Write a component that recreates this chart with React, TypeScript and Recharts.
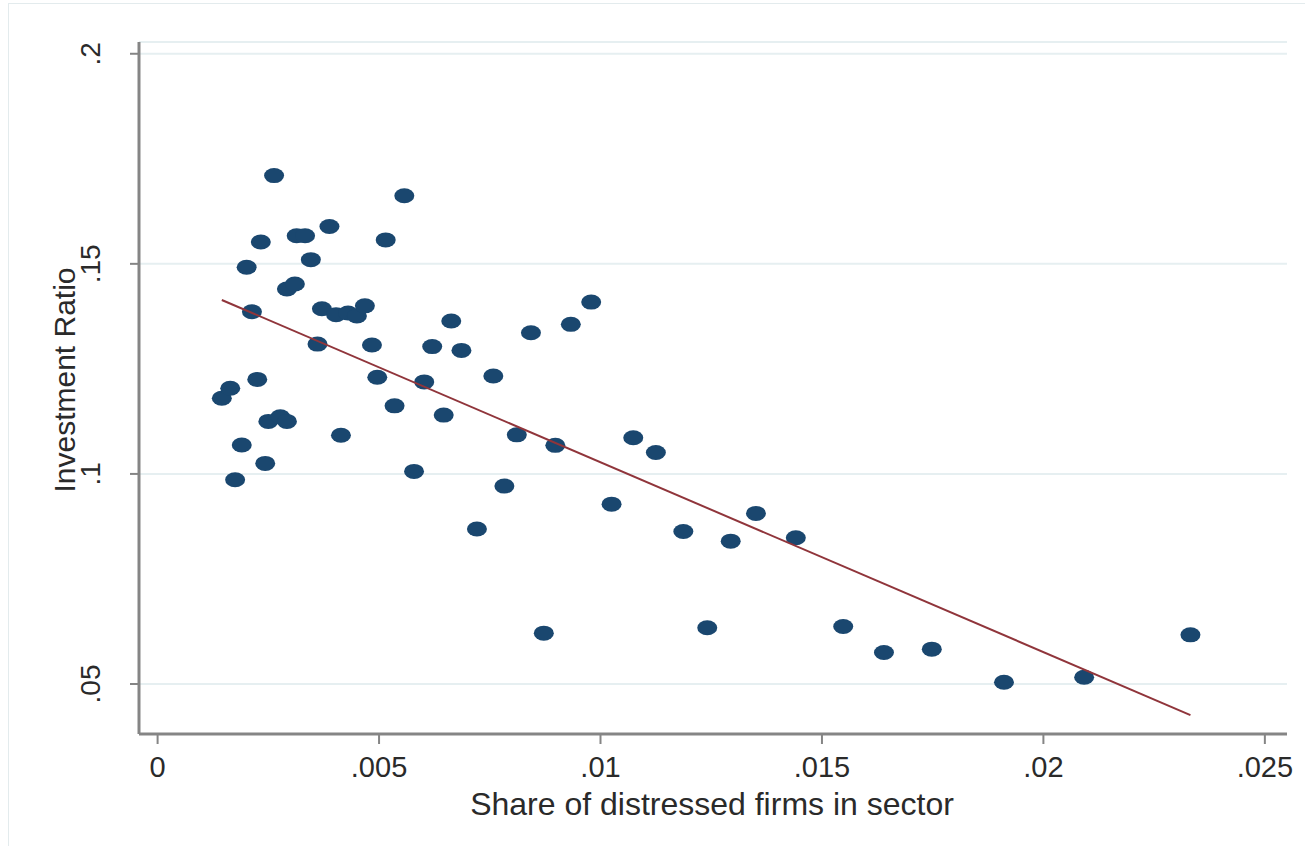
import { ScatterChart, Scatter, XAxis, YAxis, CartesianGrid } from 'recharts';

// share of distressed firms (x) vs investment ratio (y), one entry per sector
const SHARE = [
  0.00263, 0.00557, 0.00388, 0.00314, 0.00333, 0.00233, 0.00515, 0.00201, 0.00346, 0.00292,
  0.0031, 0.00213, 0.00371, 0.00403, 0.0043, 0.0045, 0.00468, 0.00361, 0.00484, 0.00663,
  0.0062, 0.00686, 0.00979, 0.00933, 0.00843, 0.00145, 0.00164, 0.00225, 0.00496, 0.00602,
  0.00535, 0.00646, 0.00758, 0.0025, 0.00277, 0.00292, 0.00414, 0.00811, 0.00898, 0.01074,
  0.01125, 0.0019, 0.00243, 0.00579, 0.00175, 0.00783, 0.01025, 0.00721, 0.01187, 0.01294,
  0.01351, 0.01441, 0.00872, 0.01241, 0.01548, 0.0164, 0.01748, 0.01911, 0.02092, 0.02332,
];
const INVEST = [
  0.171, 0.1662, 0.1589, 0.1567, 0.1567, 0.1552, 0.1557, 0.1492, 0.151, 0.144,
  0.1452, 0.1386, 0.1393, 0.1379, 0.1383, 0.1376, 0.14, 0.1309, 0.1307, 0.1364,
  0.1303, 0.1294, 0.1409, 0.1356, 0.1336, 0.118, 0.1204, 0.1225, 0.123, 0.1219,
  0.1162, 0.114, 0.1233, 0.1125, 0.1136, 0.1125, 0.1092, 0.1093, 0.1068, 0.1086,
  0.1051, 0.1069, 0.1025, 0.1006, 0.0986, 0.0971, 0.0928, 0.0869, 0.0863, 0.084,
  0.0906, 0.0848, 0.0621, 0.0634, 0.0637, 0.0575, 0.0583, 0.0504, 0.0516, 0.0617,
];

// fitted values at the ends of the data range
const FIT_X = [0.00145, 0.02332];
const FIT_Y = [0.1414, 0.0426];

const X_TICKS = [0, 0.005, 0.01, 0.015, 0.02, 0.025];
const Y_TICKS = [0.05, 0.1, 0.15, 0.2];

const points = SHARE.map((x, i) => ({ x, y: INVEST[i] }));
const fit = FIT_X.map((x, i) => ({ x, y: FIT_Y[i] }));

const FONT = '"Liberation Sans", Arial, sans-serif';
const TEXT = '#2a2a2a';
const AXIS = '#858585';

// stata style: drop the leading zero
const fmt = (v: number) => (v === 0 ? '0' : String(v).replace(/^0/, ''));

const XTick = ({ x, payload }: any) => (
  <text x={x} y={767} textAnchor="middle" dominantBaseline="central" fontSize={29} fontFamily={FONT} fill={TEXT}>
    {fmt(payload.value)}
  </text>
);

const YTick = ({ y, payload }: any) => (
  <text
    x={91}
    y={y}
    transform={`rotate(-90, 91, ${y})`}
    textAnchor="middle"
    dominantBaseline="central"
    fontSize={28}
    fontFamily={FONT}
    fill={TEXT}
  >
    {fmt(payload.value)}
  </text>
);

const YTitle = () => (
  <text
    x={64}
    y={380}
    transform="rotate(-90, 64, 380)"
    textAnchor="middle"
    dominantBaseline="central"
    fontSize={30}
    fontFamily={FONT}
    fill={TEXT}
  >
    Investment Ratio
  </text>
);

const XTitle = () => (
  <text x={712} y={804} textAnchor="middle" dominantBaseline="central" fontSize={32} fontFamily={FONT} fill={TEXT}>
    Share of distressed firms in sector
  </text>
);

const Dot = ({ cx, cy }: any) => <ellipse cx={cx} cy={cy} rx={10} ry={7.5} fill="#1a476f" />;

export default function App() {
  return (
    <div style={{ position: 'absolute', left: 0, top: 0, width: 1305, height: 846, background: '#fff' }}>
      <div
        style={{ position: 'absolute', left: 8, top: 3, width: 1310, height: 860, border: '1px solid #e3ebed' }}
      />
      <div style={{ position: 'absolute', left: 0, top: 0 }}>
        <ScatterChart width={1305} height={846} margin={{ top: 42, right: 18, bottom: 0, left: 0 }}>
          <CartesianGrid vertical={false} stroke="#e6eff1" strokeWidth={2} />
          <XAxis
            type="number"
            dataKey="x"
            domain={[-0.00042, 0.0255]}
            ticks={X_TICKS}
            height={112}
            tickSize={10}
            tick={<XTick />}
            axisLine={{ stroke: AXIS, strokeWidth: 3 }}
            tickLine={{ stroke: AXIS, strokeWidth: 2 }}
            allowDataOverflow
            label={{ content: () => <XTitle /> }}
          />
          <YAxis
            type="number"
            dataKey="y"
            domain={[0.0381, 0.2028]}
            ticks={Y_TICKS}
            width={139}
            tickSize={9}
            tick={<YTick />}
            axisLine={{ stroke: AXIS, strokeWidth: 3 }}
            tickLine={{ stroke: AXIS, strokeWidth: 2 }}
            allowDataOverflow
            label={{ content: () => <YTitle /> }}
          />
          <Scatter data={points} shape={<Dot />} isAnimationActive={false} />
          <Scatter
            data={fit}
            shape={() => <g />}
            line={{ stroke: '#90353b', strokeWidth: 2 }}
            isAnimationActive={false}
          />
        </ScatterChart>
      </div>
    </div>
  );
}
